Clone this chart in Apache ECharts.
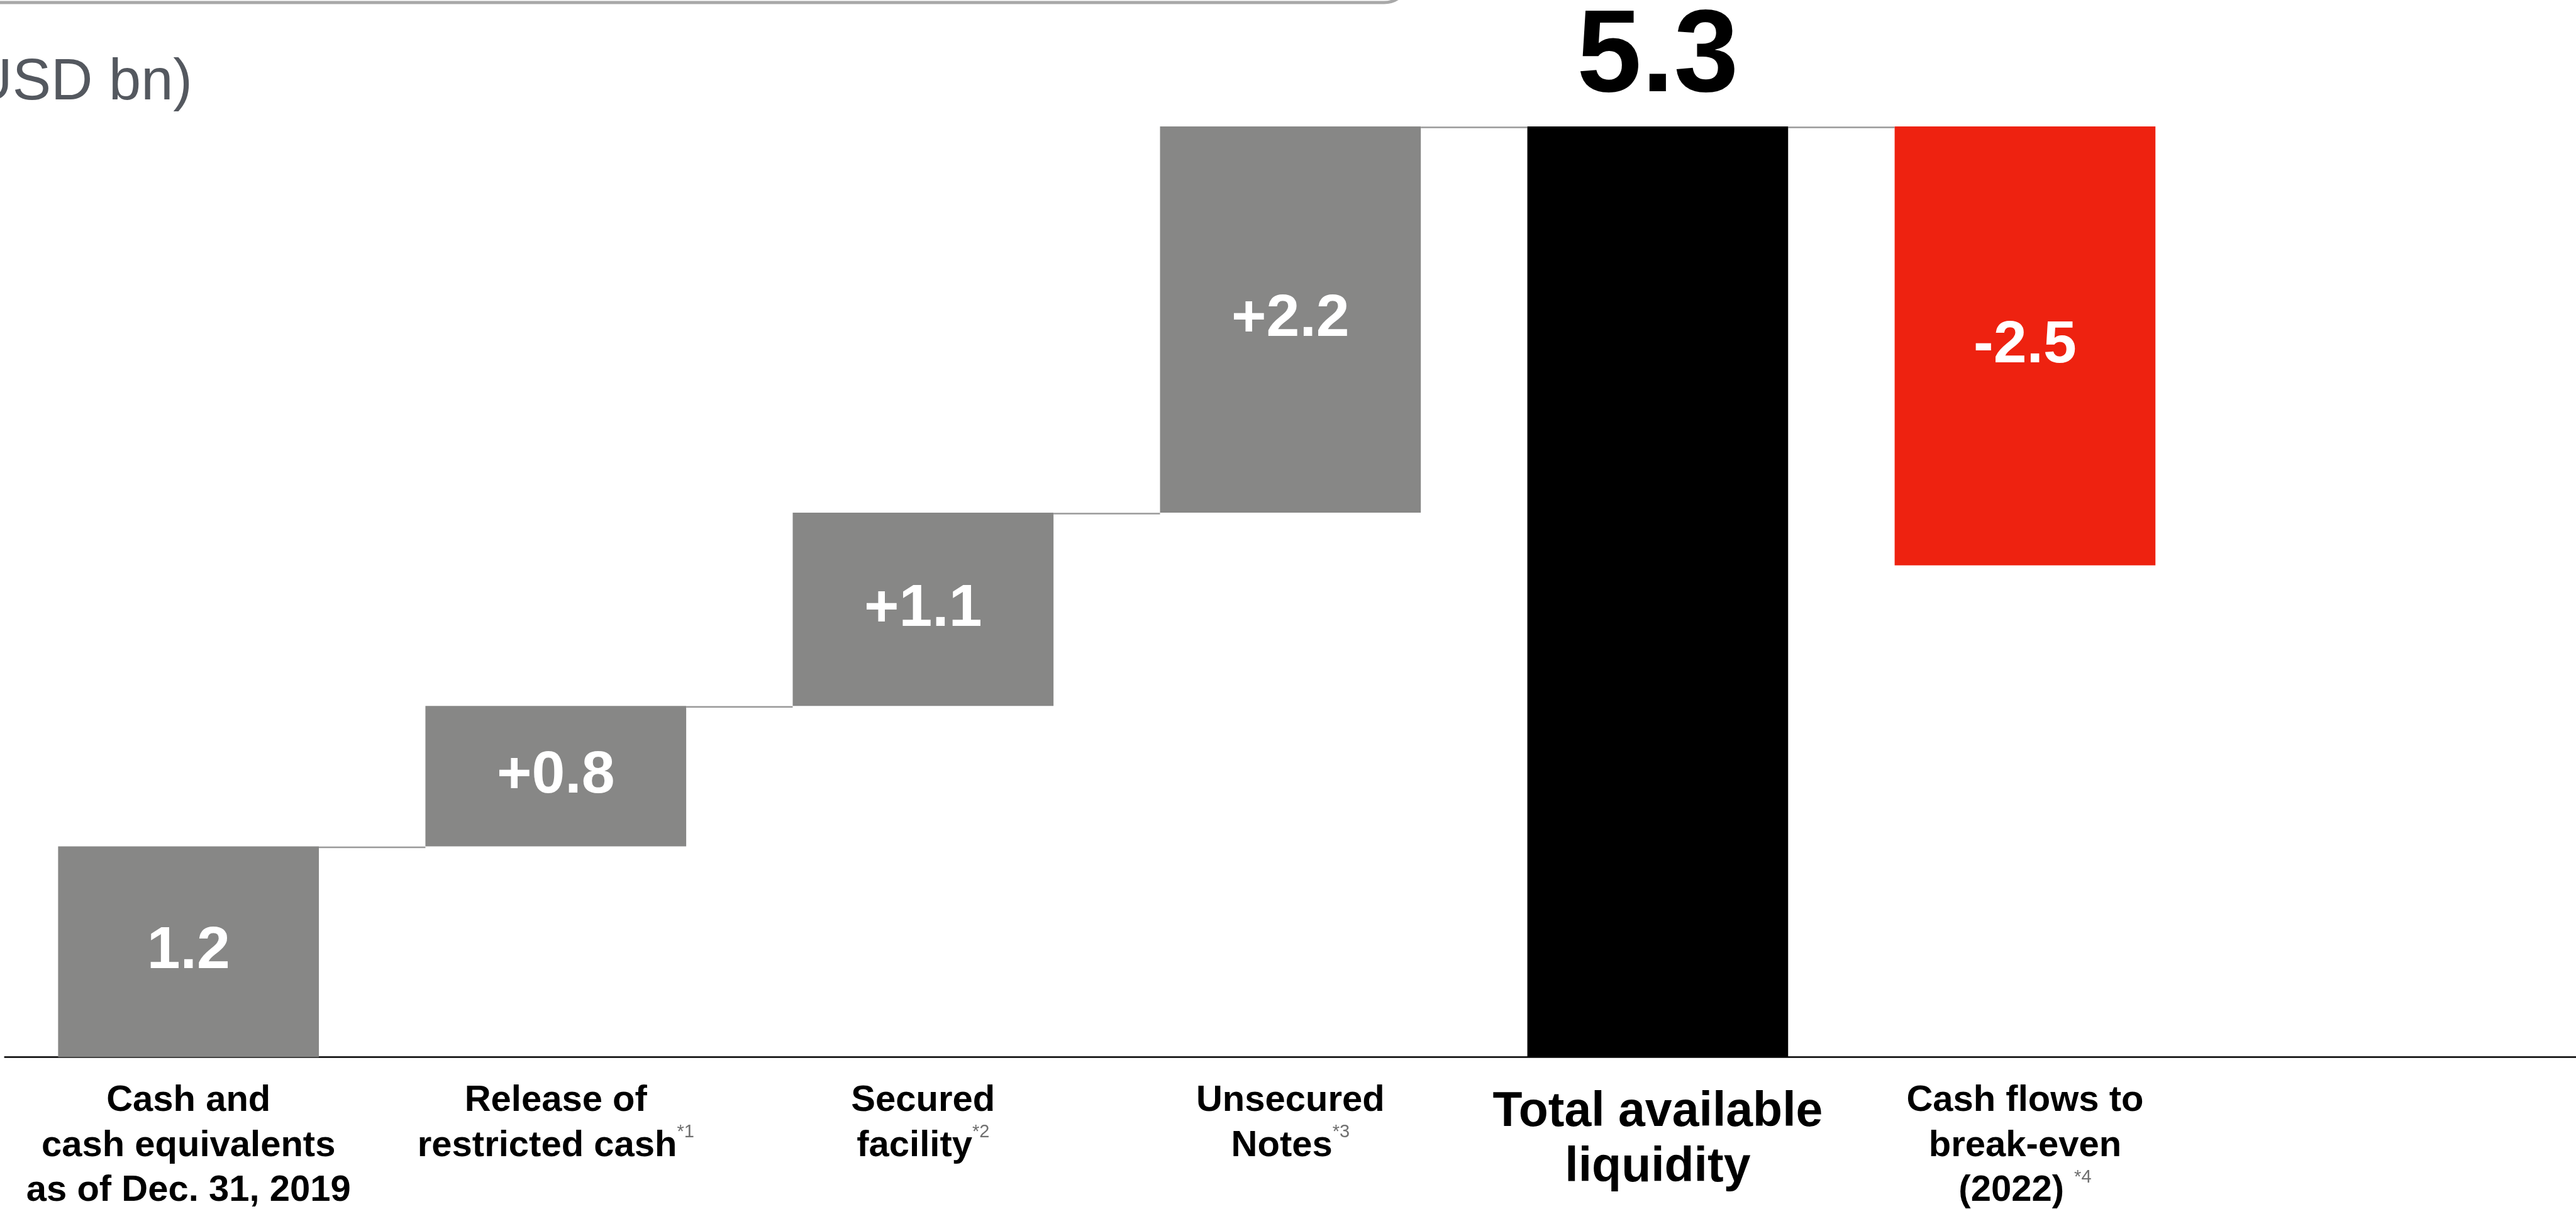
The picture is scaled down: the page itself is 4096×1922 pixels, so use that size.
<!DOCTYPE html>
<html>
<head>
<meta charset="utf-8">
<style>
  html, body { margin: 0; padding: 0; background: #ffffff; }
  #chart { width: 4096px; height: 1922px; }
</style>
<script src="https://cdn.jsdelivr.net/npm/echarts@6/dist/echarts.min.js"></script>
</head>
<body>
<div id="chart"></div>
<script>
// Liquidity bridge (USD bn)
const categories = [
  'Cash and\ncash equivalents\nas of Dec. 31, 2019',
  'Release of\nrestricted cash',
  'Secured\nfacility',
  'Unsecured\nNotes',
  'Total available\nliquidity',
  'Cash flows to\nbreak-even\n(2022) ',
  ''
];
const footnotes = ['', '*1', '*2', '*3', '', '*4', ''];
// step changes; the total column is null and gets its value separately
const stepValues = [1.2, 0.8, 1.1, 2.2, null, -2.5, null];
const totalValue = 5.3;
const totalIndex = 4;

const GRAY = '#878786';
const BLACK = '#000000';
const RED = '#ee2210';
const FONT = '"Liberation Sans", Arial, Helvetica, sans-serif';

// waterfall bases and heights
const baseData = [];
const barData = [];
const levels = [];       // running level after each column
let running = 0;
stepValues.forEach((v, i) => {
  if (i === totalIndex) {
    baseData.push(0);
    barData.push({ value: totalValue, itemStyle: { color: BLACK }, isTotal: true });
    running = totalValue;
    levels.push(running);
  } else if (v === null) {
    baseData.push('-');
    barData.push('-');
    levels.push(null);
  } else {
    const start = running;
    running = +(running + v).toFixed(4);
    baseData.push(Math.min(start, running));
    barData.push({ value: Math.abs(v), step: v, first: i === 0,
      itemStyle: { color: v < 0 ? RED : GRAY } });
    levels.push(running);
  }
});
// connectors run from the top of column i over to column i+1
const connectorData = [];
for (let i = 0; i < levels.length - 1; i++) {
  if (levels[i] === null || barData[i + 1] === '-') continue;
  connectorData.push([i, i < totalIndex ? levels[i] : totalValue]);
}

const BAR_RATIO = 0.71;

function fmtStep(d) {
  if (d.isTotal) return totalValue.toFixed(1);
  const v = d.step;
  if (d.first) return v.toFixed(1);
  return (v > 0 ? '+' : '-') + Math.abs(v).toFixed(1);
}

const chart = echarts.init(document.getElementById('chart'));
chart.setOption({
  animation: false,
  backgroundColor: '#ffffff',
  textStyle: { fontFamily: FONT },
  grid: { left: 7.7, right: 0, top: 200.9, bottom: 238.5, containLabel: false },
  xAxis: {
    type: 'category',
    data: categories,
    axisLine: { show: true, lineStyle: { color: '#000000', width: 2.5 } },
    axisTick: { show: false },
    splitLine: { show: false },
    axisLabel: {
      interval: 0,
      margin: 34,
      fontFamily: FONT,
      formatter: function (value, idx) {
        const lines = value.split('\n');
        if (idx === totalIndex) {
          return lines.map((l, k) => '{' + (k === 0 ? 't1' : 't2') + '|' + l + '}').join('\n');
        }
        return lines.map((l, k) => {
          let s = '{n|' + l + '}';
          if (k === lines.length - 1 && footnotes[idx]) s += '{s|' + footnotes[idx] + '}';
          return s;
        }).join('\n');
      },
      rich: {
        n: { fontFamily: FONT, fontSize: 58, fontWeight: 'bold', color: '#000000', lineHeight: 71.4 },
        s: { fontFamily: FONT, fontSize: 29, color: '#707070', verticalAlign: 'top', lineHeight: 58 },
        t1: { fontFamily: FONT, fontSize: 77, fontWeight: 'bold', color: '#000000', lineHeight: 109 },
        t2: { fontFamily: FONT, fontSize: 77, fontWeight: 'bold', color: '#000000', lineHeight: 66 }
      }
    }
  },
  yAxis: {
    type: 'value',
    min: 0,
    max: 5.3,
    show: false,
    splitLine: { show: false }
  },
  series: [
    {
      name: 'base',
      type: 'bar',
      stack: 'w',
      barWidth: (BAR_RATIO * 100) + '%',
      itemStyle: { color: 'rgba(0,0,0,0)' },
      emphasis: { disabled: true },
      data: baseData,
      silent: true
    },
    {
      name: 'value',
      type: 'bar',
      stack: 'w',
      barWidth: (BAR_RATIO * 100) + '%',
      data: barData.map(d => {
        if (d === '-') return d;
        const label = d.isTotal
          ? { show: true, position: 'top', distance: 14, color: '#000000', fontSize: 185,
              fontWeight: 'bold', fontFamily: FONT, formatter: () => fmtStep(d) }
          : { show: true, position: 'inside', color: '#ffffff', fontSize: 95, fontWeight: 'bold',
              fontFamily: FONT, formatter: () => fmtStep(d) };
        return { value: d.value, itemStyle: d.itemStyle, label: label };
      })
    },
    {
      name: 'connector',
      type: 'custom',
      silent: true,
      data: connectorData,
      z: 1,
      renderItem: function (params, api) {
        const i = api.value(0);
        const lvl = api.value(1);
        const p = api.coord([i, lvl]);
        const band = api.size([1, 0])[0];
        const half = band * BAR_RATIO / 2;
        return {
          type: 'line',
          shape: { x1: p[0] + half, y1: p[1] + 1.5, x2: p[0] + band - half, y2: p[1] + 1.5 },
          style: { stroke: '#999999', lineWidth: 2.5 }
        };
      }
    }
  ],
  graphic: [
    {
      type: 'rect',
      shape: { x: -40, y: -300, width: 2281, height: 304, r: 40 },
      style: { fill: 'none', stroke: '#a8a8a8', lineWidth: 5 },
      silent: true
    },
    {
      type: 'text',
      x: 306,
      y: 133,
      style: {
        text: '(USD bn)',
        font: '92px ' + FONT,
        fill: '#54585f',
        textAlign: 'right',
        textVerticalAlign: 'middle'
      },
      silent: true
    }
  ]
});
</script>
</body>
</html>
